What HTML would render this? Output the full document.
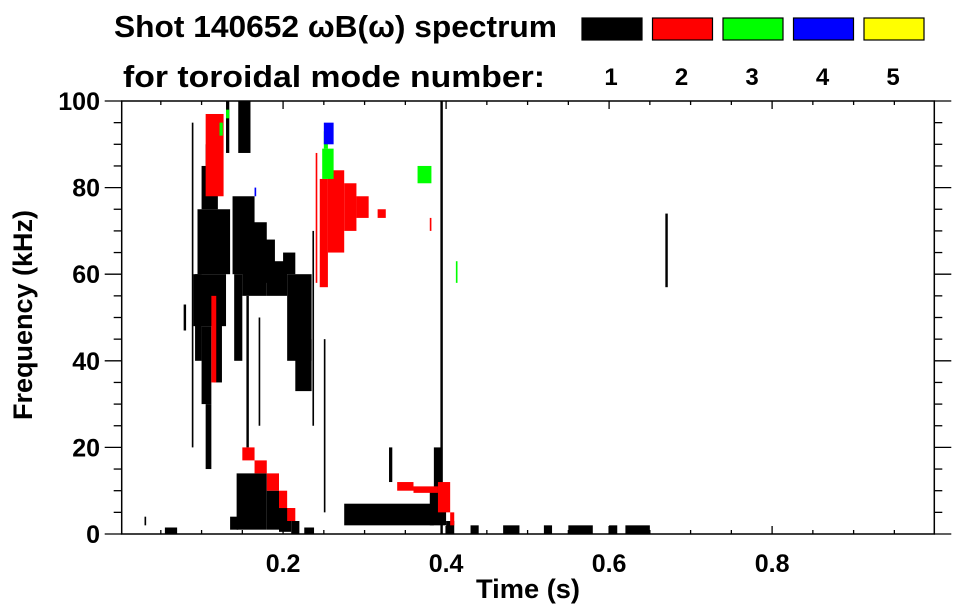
<!DOCTYPE html>
<html><head><meta charset="utf-8">
<style>
html,body{margin:0;padding:0;background:#fff;}
svg{display:block;font-family:"Liberation Sans",Arial,sans-serif;font-weight:bold;}
</style></head>
<body>
<svg id="chart" width="963" height="615" viewBox="0 0 963 615">
  <g>
    <text x="114" y="37" font-size="31" textLength="443" lengthAdjust="spacingAndGlyphs">Shot 140652 ωB(ω) spectrum</text>
    <text x="123" y="87" font-size="31" textLength="422" lengthAdjust="spacingAndGlyphs">for toroidal mode number:</text>
  </g>
  <g id="legend"></g>
  <g id="cells"></g>
  <g id="axes"></g>
  <text x="528" y="598" font-size="27" text-anchor="middle" textLength="104" lengthAdjust="spacingAndGlyphs">Time (s)</text>
  <text transform="translate(32,315) rotate(-90)" font-size="27" text-anchor="middle" textLength="210" lengthAdjust="spacingAndGlyphs">Frequency (kHz)</text>
</svg>
<script>
// ---- data ----
const modeLabels = ["1","2","3","4","5"];
const modeColors = ["#000000","#ff0000","#00ff00","#0000ff","#ffff00"];
const xTicks = [0.2,0.4,0.6,0.8];
const xTickLabels = ["0.2","0.4","0.6","0.8"];
const yTicks = [0,20,40,60,80,100];
const yTickLabels = ["0","20","40","60","80","100"];
// spectrogram cells: time start/end (s), freq start/end (kHz), toroidal mode
const cellT0 = [0.095,0.100,0.105,0.090,0.092,0.100,0.105,0.115,0.088,0.138,0.150,0.165,0.180,0.140,0.155,0.170,0.205,0.215,0.236,0.200,0.145,0.130,0.143,0.180,0.195,0.210,0.135,0.226,0.250,0.275,0.380,0.385,0.393,0.400,0.330,0.430,0.470,0.520,0.550,0.600,0.620,0.669,0.030,0.055,0.078,
  0.105,0.112,0.150,0.165,0.180,0.195,0.205,0.245,0.255,0.275,0.290,0.316,0.340,0.360,0.390,0.405,0.380,0.240,
  0.248,0.250,0.365,0.122,0.130,0.412,
  0.250,0.165];
const cellT1 = [0.135,0.120,0.115,0.130,0.100,0.112,0.112,0.125,0.090,0.165,0.180,0.190,0.205,0.150,0.158,0.172,0.235,0.235,0.238,0.215,0.160,0.134,0.180,0.195,0.210,0.220,0.145,0.238,0.252,0.385,0.400,0.395,0.396,0.410,0.334,0.440,0.490,0.530,0.580,0.610,0.650,0.672,0.032,0.070,0.081,
  0.127,0.118,0.165,0.180,0.195,0.205,0.215,0.255,0.275,0.290,0.305,0.326,0.360,0.390,0.405,0.410,0.382,0.242,
  0.262,0.255,0.382,0.126,0.134,0.414,
  0.262,0.167];
const cellF0 = [60,75,85,48,40,30,15,35,20,60,55,58,55,40,20,25,40,33,25,60,88,88,1,1,0.5,0,1,0,5,2,2,10,0,0,12,0,0,0,0,0,0,57,2,0,47,
  78,35,17,14,10,6,3,57,65,70,73,73,10,9.5,5,2,70,58,
  82,89,81,92,96,58,
  90,78];
const cellF1 = [75,85,90,60,60,48,30,50,95,78,72,68,63,60,55,50,60,45,70,65,100,100,14,10,6,3,4,1.5,45,7,10,20,100,3,20,2,2,2,2,2,2,74,4,1.5,53,
  97,55,20,17,14,10,6,82,84,81,78,75,12,11,12,5,73,88,
  89,93,85,95,98,63,
  95,80];
const cellMode = [1,1,1,1,1,1,1,1,1,1,1,1,1,1,1,1,1,1,1,1,1,1,1,1,1,1,1,1,1,1,1,1,1,1,1,1,1,1,1,1,1,1,1,1,1,
  2,2,2,2,2,2,2,2,2,2,2,2,2,2,2,2,2,2,
  3,3,3,3,3,3,
  4,4];

// ---- scales ----
const X0=121.7, X1=934.3, Y0=534, Y1=101;
const tMin=0.002, tMax=0.999, fMin=0, fMax=100;
function xs(t){return X0+(t-tMin)/(tMax-tMin)*(X1-X0);}
function ys(f){return Y0-(f-fMin)/(fMax-fMin)*(Y0-Y1);}
const NS="http://www.w3.org/2000/svg";
function mk(tag,attrs,parent){const e=document.createElementNS(NS,tag);for(const k in attrs)e.setAttribute(k,attrs[k]);parent.appendChild(e);return e;}

// legend
const lg=document.getElementById('legend');
for(let i=0;i<modeLabels.length;i++){
  const bx=582+i*70.5;
  const r=mk('rect',{x:bx,y:18,width:60,height:22,fill:modeColors[i],stroke:"#000","stroke-width":1.2},lg);
  
  
  const t=mk('text',{x:bx+29,y:85,"font-size":24,"text-anchor":"middle"},lg);
  t.textContent=modeLabels[i];
  
  
}

// cells
const cg=document.getElementById('cells');
for(let i=0;i<cellT0.length;i++){
  const x=xs(cellT0[i]), w=Math.max(1.2,xs(cellT1[i])-x);
  const y=ys(cellF1[i]), h=Math.max(1.2,ys(cellF0[i])-y);
  const r=mk('rect',{x:x,y:y,width:w,height:h,fill:modeColors[cellMode[i]-1]},cg);
  
  
}

// axes
const ax=document.getElementById('axes');
const box=mk('rect',{x:X0,y:Y1,width:X1-X0,height:Y0-Y1,fill:"none",stroke:"#000","stroke-width":1.5},ax);


for(let k=1;k<20;k++){
  const t=k*0.05, x=xs(t), major=(k%4===0);
  const L=major?8:4;
  const a=mk('line',{x1:x,x2:x,y1:Y0,y2:Y0-L,stroke:"#000","stroke-width":1.3},ax);
  
  
  const b=mk('line',{x1:x,x2:x,y1:Y1,y2:Y1+L,stroke:"#000","stroke-width":1.3},ax);
  
  
}
for(let i=0;i<xTicks.length;i++){
  const t=mk('text',{x:xs(xTicks[i]),y:572,"font-size":25,"text-anchor":"middle"},ax);
  t.textContent=xTickLabels[i];
  
  
}
for(let k=0;k<=20;k++){
  const f=k*5, y=ys(f), major=(k%4===0);
  const L=major?17:8;
  const a=mk('line',{x1:X0-L,x2:X0,y1:y,y2:y,stroke:"#000","stroke-width":1.3},ax);
  
  
  const b=mk('line',{x1:X1,x2:X1+L,y1:y,y2:y,stroke:"#000","stroke-width":1.3},ax);
  
  
}
for(let i=0;i<yTicks.length;i++){
  const t=mk('text',{x:100,y:ys(yTicks[i])+9,"font-size":25,"text-anchor":"end"},ax);
  t.textContent=yTickLabels[i];
  
  
}
</script>
</body></html>
